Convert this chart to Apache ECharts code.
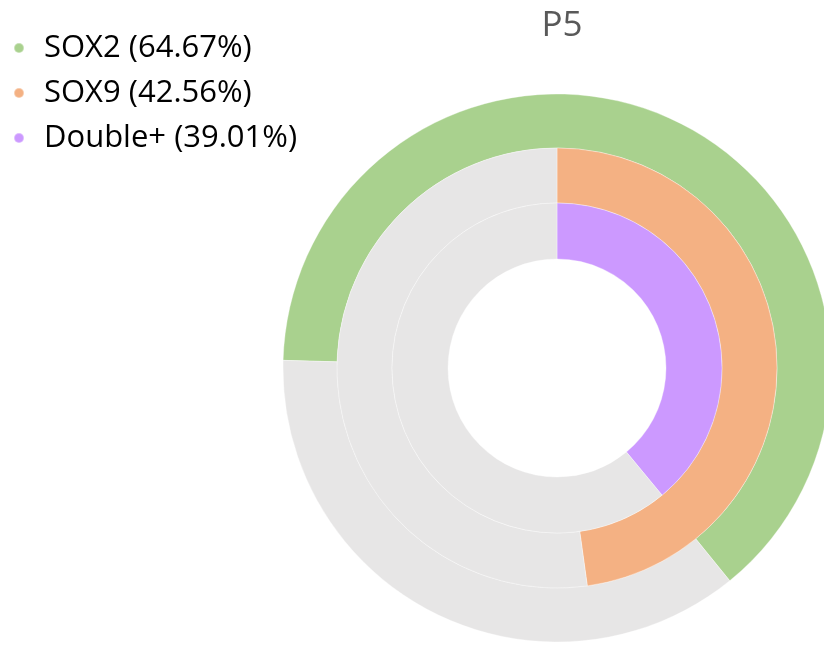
<!DOCTYPE html>
<html>
<head>
<meta charset="utf-8">
<script src="https://cdn.jsdelivr.net/npm/echarts@6/dist/echarts.min.js"></script>
<style>
html,body{margin:0;padding:0;background:#fff;}
#chart{width:824px;height:645px;}
</style>
</head>
<body>
<div id="chart"></div>
<script>
var titleText = 'P5';
var legendNames = ['SOX2 (64.67%)', 'SOX9 (42.56%)', 'Double+ (39.01%)'];
var ringColors = ['#a9d18e', '#f4b183', '#cc99ff'];
var restColor = '#e7e6e6';
// arc shares as drawn in the picture (percent of full circle)
var ringValues = [63.7, 47.8, 39.01];
var ringStartAngles = [178.4, 90, 90];
var ringRadii = [[220, 274], [165, 220], [109, 165]];

var series = ringValues.map(function (v, i) {
  return {
    type: 'pie',
    center: [557, 368],
    radius: ringRadii[i],
    startAngle: ringStartAngles[i],
    clockwise: true,
    silent: true,
    avoidLabelOverlap: false,
    label: {show: false},
    labelLine: {show: false},
    itemStyle: {borderColor: 'rgba(255,255,255,0.35)', borderWidth: 1},
    emphasis: {disabled: true},
    data: [
      {name: legendNames[i], value: v, itemStyle: {color: ringColors[i]}},
      {name: 'rest' + i, value: 100 - v, itemStyle: {color: restColor}}
    ]
  };
});

var chart = echarts.init(document.getElementById('chart'));
chart.setOption({
  animation: false,
  backgroundColor: '#fff',
  title: {
    text: titleText,
    left: 557,
    textAlign: 'center',
    top: 4,
    textStyle: {fontFamily: 'Open Sans', fontSize: 35, fontWeight: 'normal', color: '#595959'}
  },
  legend: {
    orient: 'vertical',
    left: 13,
    top: 30,
    padding: 0,
    icon: 'circle',
    itemWidth: 10,
    itemHeight: 10,
    itemGap: 9,
    selectedMode: false,
    data: legendNames,
    textStyle: {fontFamily: 'Open Sans', fontSize: 31, color: '#000', lineHeight: 36, padding: [0, 0, 0, 15]}
  },
  series: series
});
</script>
</body>
</html>
